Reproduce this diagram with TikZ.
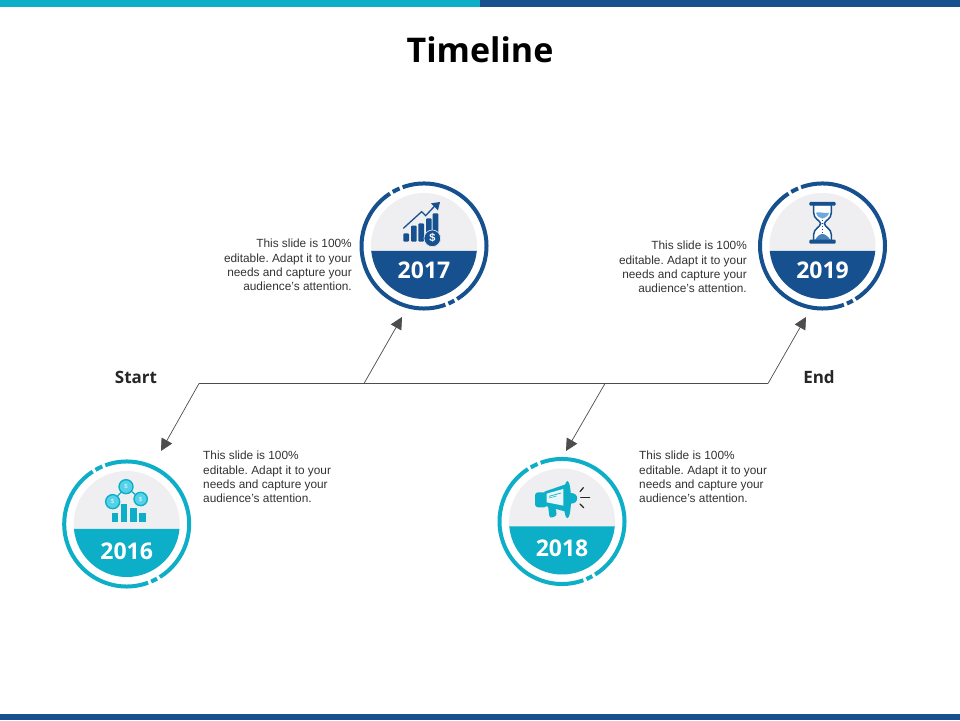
\documentclass[tikz,border=0pt]{standalone}
\usepackage{fontspec}
\setmainfont{Liberation Sans}
\newfontfamily\headfont{Open Sans}
\usetikzlibrary{arrows.meta}
\definecolor{teal1}{HTML}{0DAFC8}
\definecolor{blue1}{HTML}{17508F}
\definecolor{disc}{HTML}{EFEFF1}
\definecolor{lineg}{HTML}{4D4D4D}
\definecolor{sky}{HTML}{6FA8DC}
\definecolor{aqua}{HTML}{55D2E8}
\definecolor{palewin}{HTML}{EAF7FA}
\tikzset{
  ringarc/.style={line width=4pt},
  tlline/.style={draw=lineg,line width=0.7pt},
  tlarrow/.style={tlline,-{Triangle[length=12pt,width=12pt]}},
  bodytext/.style={font=\frenchspacing\fontsize{11.85}{14.3}\selectfont,text=black!80,inner sep=0pt,align=#1},
  yeartext/.style={font=\headfont\bfseries\fontsize{23}{26}\selectfont,text=white,inner sep=0pt},
  endlabel/.style={font=\headfont\bfseries\fontsize{17}{18}\selectfont,text=black!85,inner sep=0pt},
  titletext/.style={font=\headfont\bfseries\fontsize{34}{38}\selectfont,text=black,inner sep=0pt},
  zoomA/.style={shift={(#1)},x=0.3333pt,y=-0.3333pt},
}
\newcommand{\badge}[5]{%
 \begin{scope}[shift={(#1)}]
  \fill[disc] (0,0) circle[radius=53];
  \fill[#2] (185.4:53) arc[start angle=185.4,end angle=354.6,radius=53] -- cycle;
  \draw[#2,ringarc] (110:62.5) arc[start angle=110,end angle=-58,radius=62.5];
  \draw[#2,ringarc] (-61:62.5) arc[start angle=-61,end angle=-67,radius=62.5];
  \draw[#2,ringarc] (-70:62.5) arc[start angle=-70,end angle=-237,radius=62.5];
  \draw[#2,ringarc] (120:62.5) arc[start angle=120,end angle=113,radius=62.5];
  \node[yeartext] (#3) at (0,#5) {#4};
 \end{scope}}
\begin{document}
\begin{tikzpicture}[x=1pt,y=1pt]
\useasboundingbox (0,0) rectangle (960,720);
\fill[white] (0,0) rectangle (960,720);
\fill[teal1] (0,713) rectangle (480,720);
\fill[blue1] (480,713) rectangle (960,720);
\fill[blue1] (0,0) rectangle (960,6);
\node[titletext] (title) at (480,670) {Timeline};

\badge{424,474}{blue1}{y17}{2017}{-24}
\badge{822.5,474}{blue1}{y19}{2019}{-24}
\badge{126.7,196}{teal1}{y16}{2016}{-27}
\badge{562,198.5}{teal1}{y18}{2018}{-27}

% timeline
\coordinate (a) at (199,336.5);
\coordinate (b) at (364,336.5);
\coordinate (c) at (605,336.5);
\coordinate (d) at (768,336.5);
\coordinate (a2) at (161,269);
\coordinate (b2) at (402,403);
\coordinate (c2) at (566,269);
\coordinate (d2) at (806,403);
\draw[tlline] (a) -- (b) -- (c) -- (d);
\draw[tlarrow] (a) -- (a2);
\draw[tlarrow] (b) -- (b2);
\draw[tlarrow] (c) -- (c2);
\draw[tlarrow] (d) -- (d2);
\node[endlabel] (start) at (136,342.5) {Start};
\node[endlabel] (end) at (819,342.5) {End};

% texts
\node[bodytext=right,anchor=north east] (t17) at (352,481) {This slide is 100\%\\editable. Adapt it to your\\needs and capture your\\audience's attention.};
\node[bodytext=right,anchor=north east] (t19) at (747,479) {This slide is 100\%\\editable. Adapt it to your\\needs and capture your\\audience's attention.};
\node[bodytext=left,anchor=north west] (t16) at (203,269) {This slide is 100\%\\editable. Adapt it to your\\needs and capture your\\audience's attention.};
\node[bodytext=left,anchor=north west] (t18) at (639,269) {This slide is 100\%\\editable. Adapt it to your\\needs and capture your\\audience's attention.};

% icon 2017
\begin{scope}[zoomA={395,525}]
 \fill[blue1,rounded corners=1pt] (25,115) rectangle (42,140);
 \fill[blue1,rounded corners=1pt] (48,92) rectangle (65,140);
 \fill[blue1,rounded corners=1pt] (70,85) rectangle (87,140);
 \fill[blue1,rounded corners=1pt] (93,70) rectangle (110,125);
 \fill[blue1,rounded corners=1pt] (113,55) rectangle (130,125);
 \draw[blue1,line width=1.3pt] (25,100) -- (80,50) -- (92,62) -- (122,30);
 \fill[blue1] (135,21) -- (108,25) -- (129,46) -- cycle;
 \fill[blue1,draw=white!85!blue1,line width=.7pt] (112,130) circle[radius=25];
 \node[text=white,inner sep=0pt,font=\bfseries\fontsize{11}{12}\selectfont] (usd) at (112,130) {\$};
\end{scope}

% icon 2019
\begin{scope}[zoomA={800,522}]
 \draw[blue1,fill=white,line width=1.5pt] (41,20) -- (41,44) .. controls (41,64) and (60,66) .. (62,77)
   .. controls (60,88) and (41,92) .. (41,110) -- (41,128) -- (94,128) -- (94,110)
   .. controls (94,92) and (75,88) .. (73,77) .. controls (75,66) and (94,64) .. (94,44) -- (94,20) -- cycle;
 \fill[sky] (48,44) .. controls (56,40) and (78,48) .. (87,44) .. controls (85,54) and (76,60) .. (67,62) .. controls (58,60) and (50,54) .. (48,44) -- cycle;
 \fill[blue1!45!sky] (45,126) .. controls (52,114) and (60,108) .. (67,108) .. controls (74,108) and (84,114) .. (91,126) -- cycle;
 \draw[blue1,line width=.6pt,dash pattern=on 1.5pt off 1.5pt] (67,66) -- (67,106);
 \fill[blue1,rounded corners=1pt] (28,12) rectangle (107,23);
 \fill[blue1,rounded corners=1pt] (28,125) rectangle (107,137);
\end{scope}

% icon 2016
\begin{scope}[zoomA={100,245}]
 \draw[teal1,line width=1.2pt] (38,80) -- (78,35) -- (122,72);
 \foreach \cx/\cy/\r in {78/35/21,38/80/21,122/72/20}
   \draw[teal1,fill=aqua,line width=1.4pt] (\cx,\cy) circle[radius=\r];
 \foreach \cx/\cy in {78/35,38/80,122/72}
   \node[text=white!85!aqua,inner sep=0pt,font=\fontsize{6}{7}\selectfont] at (\cx,\cy) {\$};
 \fill[teal1] (37,115) rectangle (55,140);
 \fill[teal1] (62,88) rectangle (82,140);
 \fill[teal1] (90,100) rectangle (110,140);
 \fill[teal1] (118,115) rectangle (137,140);
\end{scope}

% icon 2018
\begin{scope}[zoomA={525,245}]
 \fill[teal1,rounded corners=2.5pt] (68,85) -- (88,80) -- (96,122) -- (74,130) -- cycle;
 \fill[teal1] (58,50) -- (122,28) -- (122,110) -- (58,92) -- cycle;
 \fill[teal1,rounded corners=3pt] (30,52) rectangle (66,97);
 \fill[teal1] (135,54) .. controls (164,52) and (164,88) .. (135,86) -- cycle;
 \fill[teal1] (127,74) ellipse[x radius=11,y radius=56];
 \fill[palewin] (65,56) -- (115,42) -- (115,92) -- (65,82) -- cycle;
 \draw[teal1,line width=.7pt] (72,64) -- (108,54);
 \draw[teal1,line width=.5pt] (72,69) -- (95,63);
 \draw[black!85,line width=1.2pt,line cap=round] (165,50) -- (175,38);
 \draw[black!85,line width=1.2pt,line cap=round] (167,68) -- (194,68);
 \draw[black!85,line width=1.2pt,line cap=round] (165,87) -- (176,98);
\end{scope}
\end{tikzpicture}
\end{document}
